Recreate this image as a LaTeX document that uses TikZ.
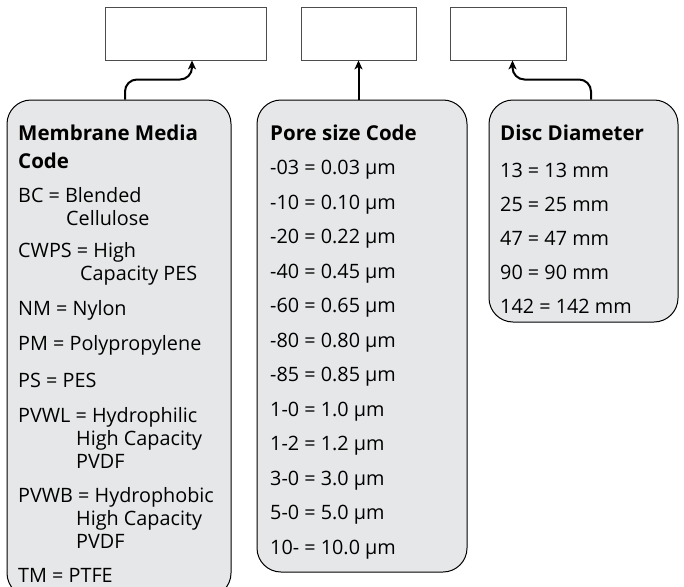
\documentclass[tikz,border=0pt]{standalone}
\usepackage{fontspec}
\setmainfont{Open Sans}
\usetikzlibrary{shapes,arrows,arrows.meta,positioning,calc}
\definecolor{panelgray}{HTML}{E6E7E8}
\definecolor{boxline}{HTML}{4D4D4D}

\begin{document}
\begin{tikzpicture}[x=1pt, y=-1pt]
% Define styles
\tikzstyle{codebox} = [rectangle, draw=boxline, fill=white, line width=0.8pt, minimum height=53pt]
\tikzstyle{panel} = [rectangle, draw, fill=panelgray, line width=1pt, rounded corners=24pt]
\tikzstyle{title} = [anchor=west, inner sep=0pt, align=left, font=\bfseries\fontsize{20.5}{28}\selectfont]
\tikzstyle{entry} = [anchor=west, inner sep=0pt, align=left, font=\fontsize{19.8}{23}\selectfont]
\tikzstyle{arrow} = [line width=2pt,-{Stealth[length=9pt,width=8pt,inset=2.5pt]}]

\useasboundingbox (0,0) rectangle (684,586);

% Empty code boxes
\node[codebox, minimum width=161pt] (box1) at (185.5,33.5) {};
\node[codebox, minimum width=115pt] (box2) at (358.5,33.5) {};
\node[codebox, minimum width=116pt] (box3) at (508,33.5) {};

% Panels
\node[panel, minimum width=224pt, minimum height=497pt] (media) at (119,348.5) {};
\node[panel, minimum width=210pt, minimum height=472pt] (pore) at (362,336) {};
\node[panel, minimum width=189pt, minimum height=222pt] (disc) at (583.5,211) {};

% Membrane media
\node[title] (mediatitle) at (18,147) {Membrane Media\\Code};
\node[entry] (bc) at (18,206.5) {BC = Blended\\\hspace*{48pt}Cellulose};
\node[entry] (cwps) at (18,263.5) {CWPS = High\\\hspace*{62pt}Capacity PES};
\node[entry] (nm) at (18,310) {NM = Nylon};
\node[entry] (pm) at (18,345) {PM = Polypropylene};
\node[entry] (ps) at (18,380) {PS = PES};
\node[entry] (pvwl) at (18,437.5) {PVWL = Hydrophilic\\\hspace*{58pt}High Capacity\\\hspace*{58pt}PVDF};
\node[entry] (pvwb) at (18,517.5) {PVWB = Hydrophobic\\\hspace*{58pt}High Capacity\\\hspace*{58pt}PVDF};
\node[entry] (tm) at (18,575) {TM = PTFE};

% Pore size
\node[title] (poretitle) at (270,133) {Pore size Code};
\node[entry] (p03) at (270,170) {-03 = 0.03 µm};
\node[entry] (p10) at (270,204.5) {-10 = 0.10 µm};
\node[entry] (p20) at (270,239) {-20 = 0.22 µm};
\node[entry] (p40) at (270,273.5) {-40 = 0.45 µm};
\node[entry] (p60) at (270,308) {-60 = 0.65 µm};
\node[entry] (p80) at (270,342.5) {-80 = 0.80 µm};
\node[entry] (p85) at (270,377) {-85 = 0.85 µm};
\node[entry] (p1a) at (270,411.5) {1-0 = 1.0 µm};
\node[entry] (p1b) at (270,446) {1-2 = 1.2 µm};
\node[entry] (p3) at (270,480.5) {3-0 = 3.0 µm};
\node[entry] (p5) at (270,515) {5-0 = 5.0 µm};
\node[entry] (p10a) at (270,549.5) {10- = 10.0 µm};

% Disc diameter
\node[title] (disctitle) at (500,133) {Disc Diameter};
\node[entry] (d13) at (500,170) {13 = 13 mm};
\node[entry] (d25) at (500,204) {25 = 25 mm};
\node[entry] (d47) at (500,238) {47 = 47 mm};
\node[entry] (d90) at (500,272) {90 = 90 mm};
\node[entry] (d142) at (500,306) {142 = 142 mm};

% Connections
\draw[arrow, rounded corners=12pt] ([xshift=6pt]media.north) -- ++(0,-20) -| ([xshift=6.5pt]box1.south);
\draw[arrow] (box2.south |- pore.north) -- (box2.south);
\draw[arrow, rounded corners=12pt] ([xshift=7.5pt]disc.north) -- ++(0,-20) -| ([xshift=4.5pt]box3.south);

\end{tikzpicture}
\end{document}
